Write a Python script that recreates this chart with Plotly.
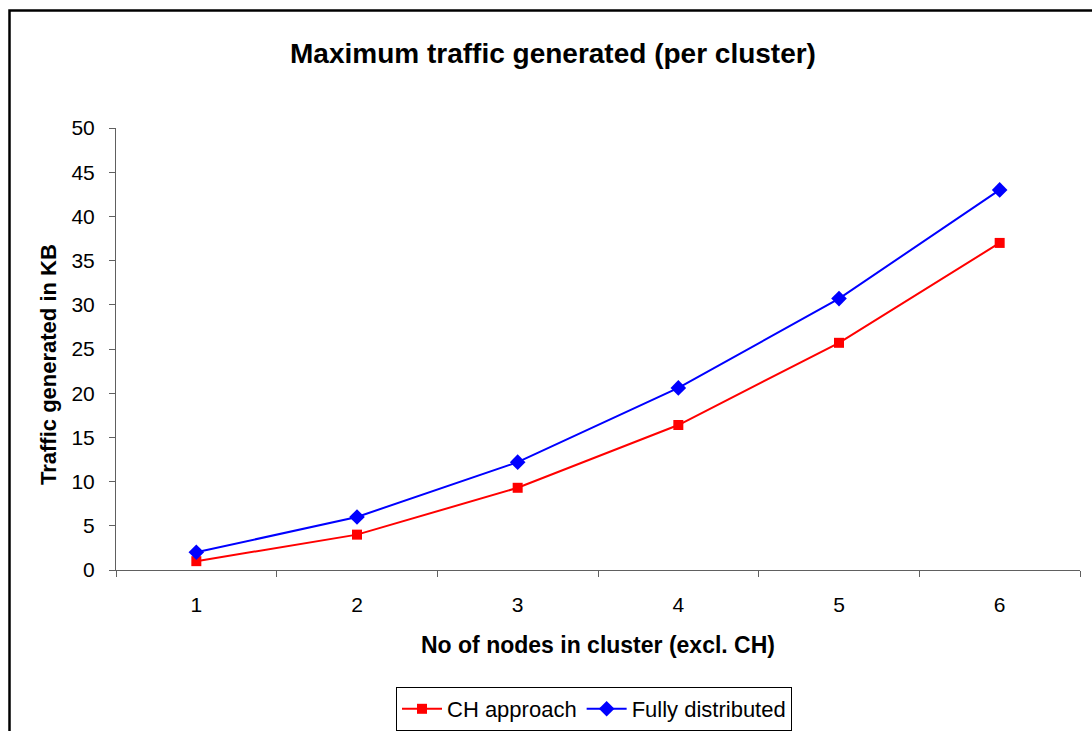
import plotly.graph_objects as go

# Cluster sizes (nodes excluding the cluster head)
nodes = ["1", "2", "3", "4", "5", "6"]

# Maximum traffic generated per cluster, in KB
ch_approach = [1.0, 4.0, 9.3, 16.4, 25.7, 37.0]
fully_distributed = [2.0, 6.0, 12.2, 20.6, 30.7, 43.0]

y_ticks = [0, 5, 10, 15, 20, 25, 30, 35, 40, 45, 50]

W, H = 1092, 731
L, R, T, B = 116, 12, 128, 161
pw, ph = W - L - R, H - T - B

def px_x(x):
    return (x - L) / pw

def px_y(y):
    return (H - B - y) / ph

FONT = "Arial, 'Liberation Sans', sans-serif"

fig = go.Figure()
fig.add_trace(go.Scatter(
    x=nodes, y=ch_approach, name="CH approach", mode="lines+markers",
    line=dict(color="#FF0000", width=2),
    marker=dict(symbol="square", size=10, color="#FF0000"),
))
fig.add_trace(go.Scatter(
    x=nodes, y=fully_distributed, name="Fully distributed", mode="lines+markers",
    line=dict(color="#0000FF", width=2),
    marker=dict(symbol="diamond", size=12, color="#0000FF"),
))

fig.update_layout(
    width=W, height=H,
    margin=dict(l=L, r=R, t=T, b=B, autoexpand=False),
    paper_bgcolor="white", plot_bgcolor="white",
    font=dict(family=FONT, size=21, color="black"),
    title=dict(
        text="<b>Maximum traffic generated (per cluster)</b>",
        x=553 / W, xanchor="center", y=1 - 53 / H, yanchor="middle",
        font=dict(family=FONT, size=28, color="black"),
    ),
    showlegend=True,
    legend=dict(
        orientation="h", x=px_x(594), xanchor="center",
        y=px_y(687), yanchor="top",
        bordercolor="black", borderwidth=1, bgcolor="white",
        font=dict(family=FONT, size=22, color="black"),
        itemwidth=40,
    ),
    xaxis=dict(
        type="category", range=[-0.5, 5.5], tickson="boundaries",
        ticks="outside", ticklen=6,
        tickcolor="#606060", showline=True, linecolor="#606060", linewidth=1,
        showgrid=False, zeroline=False, ticklabelstandoff=16,
        tickfont=dict(family=FONT, size=21, color="black"),
    ),
    yaxis=dict(
        range=[0, 50], tickvals=y_ticks, ticks="outside", ticklen=6,
        tickcolor="#606060", showline=True, linecolor="#606060", linewidth=1,
        showgrid=False, zeroline=False, ticklabelstandoff=10,
        tickfont=dict(family=FONT, size=21, color="black"),
    ),
    annotations=[
        dict(text="<b>No of nodes in cluster (excl. CH)</b>", xref="paper", yref="paper",
             x=px_x(598), y=px_y(645), xanchor="center", yanchor="middle",
             showarrow=False, font=dict(family=FONT, size=23, color="black")),
        dict(text="<b>Traffic generated in KB</b>", xref="paper", yref="paper",
             x=px_x(48), y=px_y(365), xanchor="center", yanchor="middle",
             textangle=-90, showarrow=False,
             font=dict(family=FONT, size=22, color="black")),
    ],
    shapes=[
        dict(type="rect", xref="paper", yref="paper",
             x0=px_x(9.5), x1=px_x(1110), y0=px_y(750), y1=px_y(10.5),
             line=dict(color="black", width=2.5), layer="above"),
    ],
)

fig.write_html("out.html")
